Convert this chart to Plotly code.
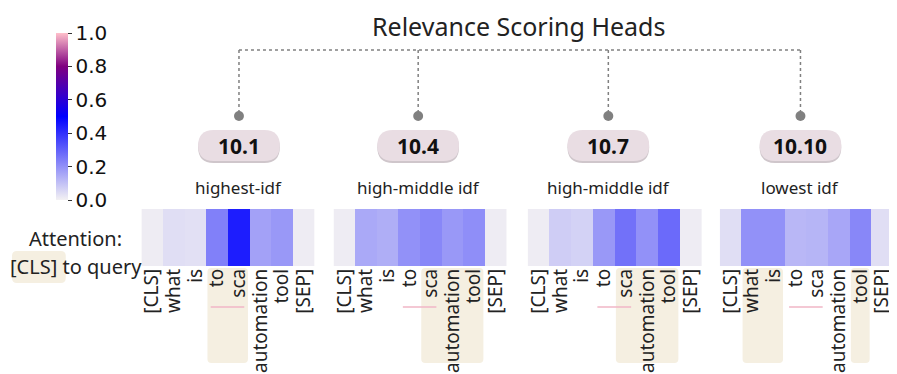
import plotly.graph_objects as go

# donnees : attention du token [CLS] vers les tokens de la requete
tokens = ["[CLS]", "what", "is", "to", "sca", "automation", "tool", "[SEP]"]
heads = ["10.1", "10.4", "10.7", "10.10"]
idf_labels = ["highest-idf", "high-middle idf", "high-middle idf", "lowest idf"]

att_10_1 = [0.01, 0.04, 0.035, 0.235, 0.44, 0.165, 0.185, 0.01]
att_10_4 = [0.01, 0.15, 0.14, 0.2, 0.22, 0.185, 0.205, 0.01]
att_10_7 = [0.01, 0.075, 0.065, 0.185, 0.265, 0.2, 0.28, 0.01]
att_10_10 = [0.04, 0.2, 0.2, 0.12, 0.125, 0.155, 0.22, 0.04]
attention = [att_10_1, att_10_4, att_10_7, att_10_10]

# tokens surlignes pour chaque tete (groupes contigus)
highlights = [[(3, 4)], [(4, 6)], [(4, 6)], [(1, 2), (6, 6)]]

W, H = 897, 374
OFF = 8  # marge du <body> de la page
def px(x):
	return (x - OFF) / W
def py(y):
	return 1 - (y - OFF) / H

colorscale = [[0, "#f3f1f3"], [0.5, "#0000ff"], [0.8, "#800080"], [1, "#ffc0cb"]]
FONT = "Noto Sans"

x_domains = [(139, 313), (332, 506), (527, 702), (720, 894)]
y_dom = [py(266), py(209)]
pill_x = [237, 417, 608, 801]

def rounded(l, t, r, b, rad):
	# chemin svg d'un rectangle arrondi, en pixels -> coordonnees papier
	return (f"M {px(l+rad)},{py(t)} L {px(r-rad)},{py(t)} "
		f"Q {px(r)},{py(t)} {px(r)},{py(t+rad)} L {px(r)},{py(b-rad)} "
		f"Q {px(r)},{py(b)} {px(r-rad)},{py(b)} L {px(l+rad)},{py(b)} "
		f"Q {px(l)},{py(b)} {px(l)},{py(b-rad)} L {px(l)},{py(t+rad)} "
		f"Q {px(l)},{py(t)} {px(l+rad)},{py(t)} Z")

fig = go.Figure()
shapes = []
annotations = []

for i, vals in enumerate(attention):
	xa = "x" if i == 0 else f"x{i+1}"
	ya = "y" if i == 0 else f"y{i+1}"
	fig.add_trace(go.Heatmap(
		z=[vals], x=list(range(len(tokens))), y=[0],
		xaxis=xa, yaxis=ya,
		colorscale=colorscale, zmin=0, zmax=1,
		showscale=(i == 0),
		colorbar=dict(
			x=px(53), xanchor="left", y=py(116.5), yanchor="middle",
			len=167 / H, lenmode="fraction", thickness=12, xpad=0, ypad=0,
			outlinewidth=0, tickvals=[0, 0.2, 0.4, 0.6, 0.8, 1.0],
			tickformat=".1f", ticks="outside", ticklen=4, tickcolor="#333",
			tickfont=dict(family="DejaVu Sans", size=20, color="#111"),
		),
		hoverinfo="skip",
	))
	key = "" if i == 0 else str(i + 1)
	fig.layout[f"xaxis{key}"] = dict(
		domain=[px(x_domains[i][0]), px(x_domains[i][1])], anchor=ya,
		range=[-0.5, 7.5], tickvals=list(range(len(tokens))), ticktext=tokens,
		tickangle=-90, ticks="", showgrid=False, zeroline=False, showline=False,
		ticklabelstandoff=-2,
		tickfont=dict(family=FONT, size=19, color="#222"), fixedrange=True,
	)
	fig.layout[f"yaxis{key}"] = dict(
		domain=y_dom, anchor=xa, range=[-0.5, 0.5], visible=False, fixedrange=True,
	)

	# surlignage beige derriere les tokens
	for a, b in highlights[i]:
		x0, x1 = a - 0.45, b + 0.42
		y0, y1 = py(268), py(363)
		rx, ry = 4 / 21.75, 4 / H
		path = (f"M {x0+rx},{y0} L {x1-rx},{y0} Q {x1},{y0} {x1},{y0-ry} "
			f"L {x1},{y1+ry} Q {x1},{y1} {x1-rx},{y1} L {x0+rx},{y1} "
			f"Q {x0},{y1} {x0},{y1+ry} L {x0},{y0-ry} Q {x0},{y0} {x0+rx},{y0} Z")
		shapes.append(dict(type="path", path=path, xref=xa, yref="paper",
			fillcolor="#f5efe1", line=dict(width=0), layer="below"))

	# trait rose sous "to" + "sca"
	shapes.append(dict(type="line", xref=xa, yref="paper", x0=2.7, x1=4.25,
		y0=py(307), y1=py(307), line=dict(color="#f0b6c6", width=1.5)))

	# connecteurs pointilles
	cx = pill_x[i]
	shapes.append(dict(type="line", xref="paper", yref="paper", x0=px(cx), x1=px(cx),
		y0=py(50), y1=py(115), line=dict(color="#808080", width=1.5, dash="dot")))
	shapes.append(dict(type="circle", xref="paper", yref="paper",
		x0=px(cx - 5), x1=px(cx + 5), y0=py(121), y1=py(111),
		fillcolor="#808080", line=dict(width=0)))

	# pastille avec le numero de tete
	for dy, col in [(2, "#cfc6cb"), (0, "#e9dde3")]:
		shapes.append(dict(type="path", path=rounded(cx - 41, 130 + dy, cx + 41, 161 + dy, 15.5),
			xref="paper", yref="paper", fillcolor=col, line=dict(width=0)))
	annotations.append(dict(text=f"<b>{heads[i]}</b>", x=px(cx), y=py(145.5),
		xref="paper", yref="paper", showarrow=False, xanchor="center", yanchor="middle",
		font=dict(family=FONT, size=21, color="#111")))
	annotations.append(dict(text=idf_labels[i], x=px(cx), y=py(187),
		xref="paper", yref="paper", showarrow=False, xanchor="center", yanchor="middle",
		font=dict(family=FONT, size=17, color="#222")))

# ligne horizontale du haut
shapes.append(dict(type="line", xref="paper", yref="paper", x0=px(pill_x[0]), x1=px(pill_x[-1]),
	y0=py(50), y1=py(50), line=dict(color="#808080", width=1.5, dash="dot")))

# surlignage de [CLS] dans la legende de gauche
shapes.append(dict(type="path", path=rounded(9, 251, 63, 283, 5), xref="paper", yref="paper",
	fillcolor="#f5efe1", line=dict(width=0), layer="below"))

annotations.append(dict(text="Relevance Scoring Heads", x=px(518), y=py(26),
	xref="paper", yref="paper", showarrow=False, xanchor="center", yanchor="middle",
	font=dict(family=FONT, size=25, color="#222")))
annotations.append(dict(text="Attention:", x=px(73), y=py(238),
	xref="paper", yref="paper", showarrow=False, xanchor="center", yanchor="middle",
	font=dict(family=FONT, size=20, color="#222")))
annotations.append(dict(text="[CLS] to query", x=px(73), y=py(266),
	xref="paper", yref="paper", showarrow=False, xanchor="center", yanchor="middle",
	font=dict(family=FONT, size=20, color="#222")))

fig.update_layout(
	width=W, height=H,
	margin=dict(l=0, r=0, t=0, b=0),
	paper_bgcolor="white", plot_bgcolor="white",
	shapes=shapes, annotations=annotations,
	showlegend=False,
)

fig.write_html("out.html")
